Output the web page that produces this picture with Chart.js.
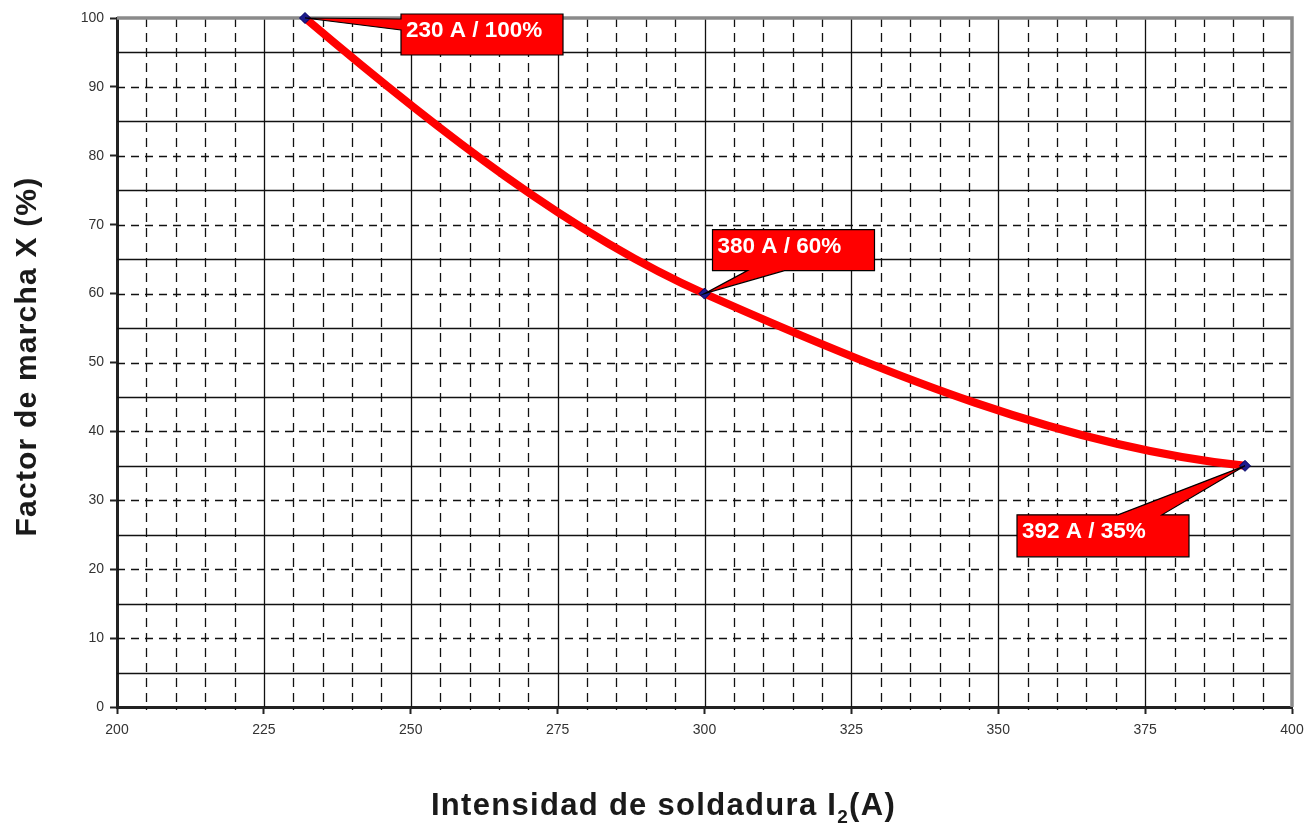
<!DOCTYPE html>
<html>
<head>
<meta charset="utf-8">
<script src="https://cdn.jsdelivr.net/npm/chart.js@4"></script>
<style>
  body { margin: 0; background: #fff; }
  #wrap { width: 1315px; height: 830px; }
</style>
</head>
<body>
<div id="wrap"><canvas id="chart" width="1315" height="830"></canvas></div>
<script>
// data
const currents = [232, 300, 392];
const dutyCycle = [100, 60, 35];
const calloutLabels = ["230 A / 100%", "380 A / 60%", "392 A / 35%"];
const xTicks = [200, 225, 250, 275, 300, 325, 350, 375, 400];
const yTicks = [0, 10, 20, 30, 40, 50, 60, 70, 80, 90, 100];
const xTitle = "Intensidad de soldadura I";
const xTitleSub = "2";
const xTitleEnd = "(A)";
const yTitle = "Factor de marcha X (%)";

const points = currents.map((x, i) => ({ x: x, y: dutyCycle[i] }));
const FONT = "'Liberation Sans', Arial, sans-serif";

// shape preserving (pchip) control points instead of the default bezier
const smoothPlugin = {
  id: "smooth",
  beforeDatasetDraw(chart, args) {
    const line = args.meta.dataset;
    const pts = args.meta.data;
    if (!line || pts.length < 3) return;
    line.updateControlPoints(chart.chartArea, "x");
    const n = pts.length;
    const h = [], d = [], m = [];
    for (let i = 0; i < n - 1; i++) {
      h.push(pts[i + 1].x - pts[i].x);
      d.push((pts[i + 1].y - pts[i].y) / h[i]);
    }
    for (let i = 1; i < n - 1; i++) {
      if (d[i - 1] * d[i] <= 0) { m[i] = 0; continue; }
      const w1 = 2 * h[i] + h[i - 1], w2 = h[i] + 2 * h[i - 1];
      m[i] = (w1 + w2) / (w1 / d[i - 1] + w2 / d[i]);
    }
    const endSlope = (h0, h1, d0, d1) => {
      let s = ((2 * h0 + h1) * d0 - h0 * d1) / (h0 + h1);
      if (Math.sign(s) !== Math.sign(d0)) s = 0;
      else if (Math.sign(d0) !== Math.sign(d1) && Math.abs(s) > Math.abs(3 * d0)) s = 3 * d0;
      return s;
    };
    m[0] = endSlope(h[0], h[1], d[0], d[1]);
    m[n - 1] = endSlope(h[n - 2], h[n - 3], d[n - 2], d[n - 3]);
    for (let i = 0; i < n; i++) {
      const p = pts[i];
      if (i > 0) {
        p.cp1x = p.x - h[i - 1] / 3;
        p.cp1y = p.y - m[i] * h[i - 1] / 3;
      }
      if (i < n - 1) {
        p.cp2x = p.x + h[i] / 3;
        p.cp2y = p.y + m[i] * h[i] / 3;
      }
    }
  }
};

// draw the excel-like grid: solid / dashed lines
const gridPlugin = {
  id: "grid",
  beforeDatasetsDraw(chart) {
    const ctx = chart.ctx;
    const xs = chart.scales.x;
    const ys = chart.scales.y;
    const a = chart.chartArea;
    ctx.save();
    ctx.strokeStyle = "#111";
    ctx.lineWidth = 1.3;
    for (let v = 205; v < 400; v += 5) {
      const px = Math.round(xs.getPixelForValue(v)) + 0.5;
      ctx.setLineDash(v % 25 === 0 ? [] : [9, 6]);
      ctx.beginPath();
      ctx.moveTo(px, a.top);
      ctx.lineTo(px, a.bottom + (v % 25 === 0 ? 0 : 3));
      ctx.stroke();
    }
    for (let v = 5; v < 100; v += 5) {
      const py = Math.round(ys.getPixelForValue(v)) + 0.5;
      ctx.setLineDash(v % 10 === 0 ? [8, 6] : []);
      ctx.beginPath();
      ctx.moveTo(a.left, py);
      ctx.lineTo(a.right, py);
      ctx.stroke();
    }
    // gray top and right border
    ctx.setLineDash([]);
    ctx.strokeStyle = "#8a8a8a";
    ctx.lineWidth = 3.5;
    ctx.beginPath();
    ctx.moveTo(a.left, a.top);
    ctx.lineTo(a.right, a.top);
    ctx.lineTo(a.right, a.bottom);
    ctx.stroke();
    ctx.restore();
  }
};

// red callout boxes, placed relative to each point
const callouts = [
  { dx: 96, dy: -4, w: 162, h: 41, side: "left", b1: 5, b2: 16 },
  { dx: 8, dy: -64, w: 162, h: 41, side: "bottom", b1: 35, b2: 72 },
  { dx: -228, dy: 49, w: 172, h: 42, side: "top", b1: 101, b2: 145 }
];

const calloutPlugin = {
  id: "callouts",
  afterDatasetsDraw(chart) {
    const ctx = chart.ctx;
    const meta = chart.getDatasetMeta(0);
    ctx.save();
    meta.data.forEach((pt, i) => {
      const c = callouts[i];
      const tx = pt.x, ty = pt.y;
      const x0 = tx + c.dx, y0 = ty + c.dy;
      const x1 = x0 + c.w, y1 = y0 + c.h;
      ctx.beginPath();
      if (c.side === "left") {
        ctx.moveTo(x0, y0);
        ctx.lineTo(x1, y0);
        ctx.lineTo(x1, y1);
        ctx.lineTo(x0, y1);
        ctx.lineTo(x0, y0 + c.b2);
        ctx.lineTo(tx, ty);
        ctx.lineTo(x0, y0 + c.b1);
        ctx.closePath();
      } else if (c.side === "bottom") {
        ctx.moveTo(x0, y0);
        ctx.lineTo(x1, y0);
        ctx.lineTo(x1, y1);
        ctx.lineTo(x0 + c.b2, y1);
        ctx.lineTo(tx, ty);
        ctx.lineTo(x0 + c.b1, y1);
        ctx.lineTo(x0, y1);
        ctx.closePath();
      } else {
        ctx.moveTo(x0, y0);
        ctx.lineTo(x0 + c.b1, y0);
        ctx.lineTo(tx, ty);
        ctx.lineTo(x0 + c.b2, y0);
        ctx.lineTo(x1, y0);
        ctx.lineTo(x1, y1);
        ctx.lineTo(x0, y1);
        ctx.closePath();
      }
      ctx.fillStyle = "#ff0000";
      ctx.fill();
      ctx.strokeStyle = "#000";
      ctx.lineWidth = 1.2;
      ctx.stroke();
      ctx.fillStyle = "#fff";
      ctx.font = "bold 22.5px " + FONT;
      ctx.textBaseline = "middle";
      ctx.textAlign = "left";
      ctx.fillText(calloutLabels[i], x0 + 5, y0 + 17);
    });
    ctx.restore();
  }
};

// axis titles (x title needs a real subscript)
const titlesPlugin = {
  id: "titles",
  afterDraw(chart) {
    const ctx = chart.ctx;
    const a = chart.chartArea;
    ctx.save();
    ctx.fillStyle = "#1a1a1a";
    ctx.textBaseline = "alphabetic";
    ctx.textAlign = "left";
    ctx.letterSpacing = "1.3px";
    const big = "bold 31px " + FONT;
    const small = "bold 19px " + FONT;
    ctx.font = big;
    const w1 = ctx.measureText(xTitle).width;
    const w3 = ctx.measureText(xTitleEnd).width;
    ctx.font = small;
    const w2 = ctx.measureText(xTitleSub).width;
    let x = (a.left + a.right) / 2 - 41 - (w1 + w2 + w3) / 2;
    const base = 815;
    ctx.font = big;
    ctx.fillText(xTitle, x, base);
    x += w1;
    ctx.font = small;
    ctx.fillText(xTitleSub, x, base + 8);
    x += w2;
    ctx.font = big;
    ctx.fillText(xTitleEnd, x, base);

    ctx.letterSpacing = "1.2px";
    ctx.font = "bold 30px " + FONT;
    ctx.translate(28, (a.top + a.bottom) / 2 - 6);
    ctx.rotate(-Math.PI / 2);
    ctx.textAlign = "center";
    ctx.textBaseline = "middle";
    ctx.fillText(yTitle, 0, 0);
    ctx.restore();
  }
};

new Chart(document.getElementById("chart"), {
  type: "scatter",
  data: {
    datasets: [
      {
        data: points,
        showLine: true,
        tension: 0.4,
        capBezierPoints: false,
        borderColor: "#ff0000",
        borderWidth: 8,
        pointStyle: "rectRot",
        pointRadius: 5.5,
        pointBackgroundColor: "#1c1c8c",
        pointBorderColor: "#000066",
        pointBorderWidth: 1,
        clip: false
      }
    ]
  },
  options: {
    responsive: false,
    animation: false,
    layout: { padding: { top: 18, right: 23, left: 0, bottom: 0 } },
    plugins: {
      legend: { display: false },
      tooltip: { enabled: false }
    },
    scales: {
      x: {
        type: "linear",
        min: 200,
        max: 400,
        afterBuildTicks: (s) => { s.ticks = xTicks.map((v) => ({ value: v })); },
        afterFit: (s) => { s.height = 123; },
        grid: { drawOnChartArea: false, drawTicks: true, tickLength: 7, tickColor: "#222", tickWidth: 2 },
        border: { color: "#222", width: 3 },
        ticks: {
          padding: 8,
          color: "#333",
          font: { family: FONT, size: 14 }
        }
      },
      y: {
        min: 0,
        max: 100,
        afterBuildTicks: (s) => { s.ticks = yTicks.map((v) => ({ value: v })); },
        afterFit: (s) => { s.width = 117; },
        grid: { drawOnChartArea: false, drawTicks: true, tickLength: 7, tickColor: "#222", tickWidth: 2 },
        border: { color: "#222", width: 3 },
        ticks: {
          padding: 6,
          color: "#333",
          font: { family: FONT, size: 14 }
        }
      }
    }
  },
  plugins: [gridPlugin, smoothPlugin, calloutPlugin, titlesPlugin]
});
</script>
</body>
</html>
